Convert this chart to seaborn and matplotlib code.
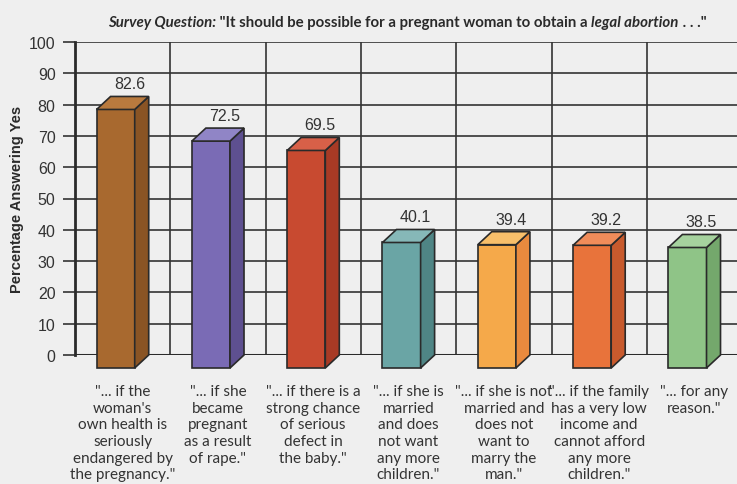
import numpy as np
import pandas as pd
import matplotlib
matplotlib.use("Agg")
import matplotlib.pyplot as plt
import matplotlib.transforms as mtransforms
from matplotlib.patches import Polygon
import seaborn as sns

# ---------------- data ----------------
categories = [
    '"... if the\nwoman\'s\nown health is\nseriously\nendangered by\nthe pregnancy."',
    '"... if she\nbecame\npregnant\nas a result\nof rape."',
    '"... if there is a\nstrong chance\nof serious\ndefect in\nthe baby."',
    '"... if she is\nmarried\nand does\nnot want\nany more\nchildren."',
    '"... if she is not\nmarried and\ndoes not\nwant to\nmarry the\nman."',
    '"... if the family\nhas a very low\nincome and\ncannot afford\nany more\nchildren."',
    '"... for any\nreason."',
]
values = [82.6, 72.5, 69.5, 40.1, 39.4, 39.2, 38.5]
front_colors = ["#a8692f", "#7a6bb5", "#c84a30", "#6aa5a5", "#f5a94a", "#e8733b", "#8fc487"]
side_colors = ["#8a5424", "#5e5090", "#a83a25", "#4f8585", "#e98a3e", "#c85a2d", "#74a86c"]
top_colors = ["#b97a3e", "#9085c6", "#d86048", "#86b8b8", "#f8bf6a", "#f08c5a", "#a6d29e"]
yticks = list(range(0, 101, 10))

# ---------------- style ----------------
sns.set_theme(style="white")
BG = "#efefef"
INK = "#2a2a2a"
NARROW = ["Lato", "DejaVu Sans"]
plt.rcParams["font.family"] = ["Liberation Sans", "DejaVu Sans"]

W, H, DPI = 737, 485, 100
fig = plt.figure(figsize=(W / DPI, H / DPI), dpi=DPI, facecolor=BG)
ax_left, ax_bottom, ax_top, col_w = 75, 356, 43, 95.3
ax = fig.add_axes([ax_left / W, (H - ax_bottom) / H, 7 * col_w / W, (ax_bottom - ax_top) / H])
ax.set_facecolor(BG)

df = pd.DataFrame({"cat": categories, "val": values})
sns.barplot(data=df, x="cat", y="val", hue="cat", palette=front_colors, width=0.4,
            legend=False, ax=ax, edgecolor=INK, linewidth=1.2, saturation=1)

ax.set_xlim(-0.5, 6.5)
ax.set_ylim(0, 100)
ax.set_yticks(yticks)
ax.set_yticklabels([str(t) for t in yticks], fontsize=11.5, color="#333333")
ax.set_xticks(np.arange(-0.5, 7, 1), minor=True)
ax.grid(True, which="major", axis="y", color="#333333", lw=1.2, zorder=0)
ax.grid(True, which="minor", axis="x", color="#333333", lw=1.2, zorder=0)
ax.set_axisbelow(True)
for s in ["top", "right", "bottom"]:
    ax.spines[s].set_visible(False)
ax.spines["left"].set_color(INK)
ax.spines["left"].set_linewidth(2)
ax.axhline(0, color=INK, lw=2.2, zorder=1)
ax.tick_params(axis="y", length=9, width=1.2, color="#333333", pad=5, direction="out", left=True)
ax.tick_params(axis="x", which="both", length=0, pad=21)
ax.set_xlabel("")
ax.set_ylabel("Percentage Answering Yes", fontsize=10.5, fontweight="bold", color=INK)
ax.yaxis.set_label_coords(-51 / (7 * col_w), 0.5)

for lab in ax.get_xticklabels():
    lab.set_fontfamily(NARROW)
    lab.set_fontsize(11)
    lab.set_color("#333333")
    lab.set_linespacing(1.24)
    lab.set_verticalalignment("top")

# ---------------- 3D bars ----------------
DX, DY = 7, 13  # pixel depth offsets
front_off = mtransforms.ScaledTranslation(-DX / DPI, -DY / DPI, fig.dpi_scale_trans)
for i, p in enumerate(ax.patches):
    p.set_transform(ax.transData + front_off)
    p.set_clip_on(False)
    p.set_zorder(3)
    x0 = p.get_x()
    x1 = x0 + p.get_width()
    h = p.get_height()
    (ax0, ah), (ax1, _), (_, a0) = ax.transData.transform([(x0, h), (x1, h), (x0, 0)])
    inch = lambda px, py: (px / DPI, py / DPI)
    top = [inch(ax0 - DX, ah - DY), inch(ax1 - DX, ah - DY), inch(ax1 + DX, ah), inch(ax0 + DX, ah)]
    side = [inch(ax1 - DX, ah - DY), inch(ax1 + DX, ah), inch(ax1 + DX, a0), inch(ax1 - DX, a0 - DY)]
    for pts, c in [(side, side_colors[i]), (top, top_colors[i])]:
        poly = Polygon(pts, closed=True, transform=fig.dpi_scale_trans, facecolor=c,
                       edgecolor=INK, linewidth=1.2, zorder=3, clip_on=False)
        ax.add_patch(poly)
    ax.annotate(f"{values[i]:.1f}", xy=(i, values[i]), xytext=(DX, 5), textcoords="offset pixels",
                ha="center", va="bottom", fontsize=11.5, color="#333333")

# ---------------- title ----------------
TS = 10.8
t1 = fig.text(108 / W, 1 - 27 / H, "Survey Question:", fontsize=TS, fontweight="bold",
              fontstyle="italic", family=NARROW, color=INK)
t2 = ax.annotate(' "It should be possible for a pregnant woman to obtain a ', xy=(1, 0),
                 xycoords=t1, va="bottom", ha="left", fontsize=TS, fontweight="bold",
                 family=NARROW, color=INK)
t3 = ax.annotate("legal abortion", xy=(1, 0), xycoords=t2, va="bottom", ha="left",
                 fontsize=TS, fontweight="bold", fontstyle="italic", family=NARROW, color=INK)
t4 = ax.annotate(' . . ."', xy=(1, 0), xycoords=t3, va="bottom", ha="left",
                 fontsize=TS, fontweight="bold", family=NARROW, color=INK)

fig.savefig("out.png", dpi=DPI, facecolor=BG)
